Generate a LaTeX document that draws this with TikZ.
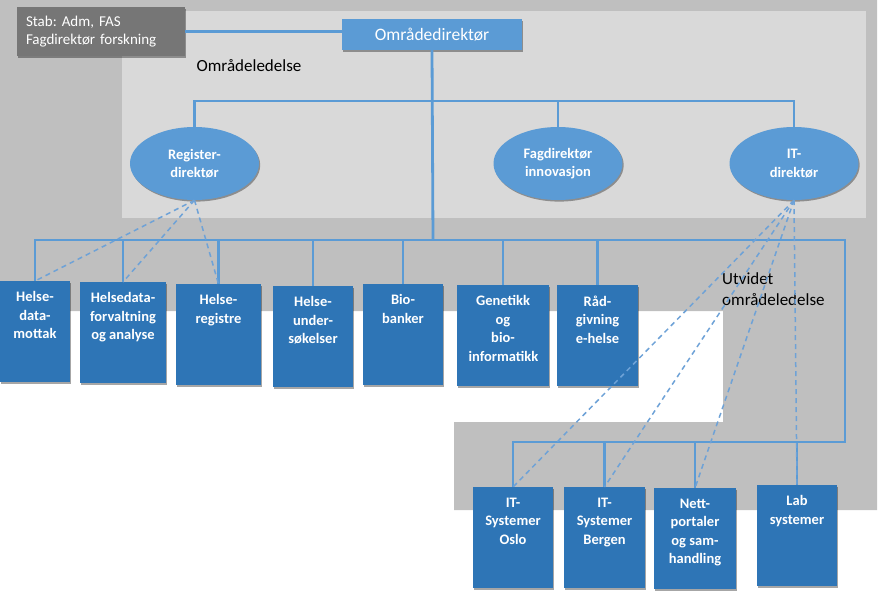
\documentclass[tikz,border=0pt]{standalone}
\usepackage{fontspec}
\setmainfont{Carlito}
\usetikzlibrary{
  shapes.geometric,
  shadows,
  positioning
}

\definecolor{outergrey}{RGB}{191,191,191}
\definecolor{innergrey}{RGB}{217,217,217}
\definecolor{stabgrey}{RGB}{118,118,118}
\definecolor{headblue}{RGB}{91,155,213}
\definecolor{unitblue}{RGB}{46,117,182}
\definecolor{linkblue}{RGB}{91,155,213}
\definecolor{dashblue}{RGB}{110,162,215}

\frenchspacing
\newcommand\unitfont{\bfseries\fontsize{14.5}{18.5}\selectfont}
\newcommand\utext[1]{\parbox[t][80pt][t]{69pt}{\centering #1}}

\tikzset{
  softshadow/.style={drop shadow={shadow xshift=1.2pt, shadow yshift=-1.6pt,
    opacity=.35, fill=black}},
  link/.style={draw=linkblue, line width=2.8pt},
  dashlink/.style={draw=dashblue, line width=1.5pt, dash pattern=on 5pt off 4pt},
  stabbox/.style={rectangle, fill=stabgrey, text=white, softshadow,
    minimum width=168pt, minimum height=47pt, inner sep=9pt,
    text width=150pt, align=left, font=\fontsize{15}{18}\selectfont},
  headbox/.style={rectangle, fill=headblue, text=white, softshadow,
    minimum width=180pt, minimum height=31pt, inner sep=0pt,
    font=\fontsize{17.5}{21}\selectfont},
  leader/.style={ellipse, fill=headblue, text=white, softshadow,
    minimum width=129pt, minimum height=73pt, inner sep=0pt,
    align=center, font=\unitfont},
  unit/.style={rectangle, fill=unitblue, text=white, softshadow,
    anchor=north, inner sep=0pt, minimum width=#1, minimum height=101pt,
    font=\unitfont},
  areatext/.style={text=black, inner sep=0pt, font=\fontsize{17}{20.5}\selectfont}
}

\begin{document}
\begin{tikzpicture}[x=1pt, y=-1pt]
  \useasboundingbox (0,0) rectangle (886,597);
  % grey areas
  \fill[outergrey] (0,0) -- (877,0) -- (877,510) -- (454,510) -- (454,422)
    -- (723,422) -- (723,311) -- (0,311) -- cycle;
  \fill[innergrey] (122,11) rectangle (866,218);

  % top level
  \node[stabbox] (stab) at (101,31.5) {Stab: Adm, FAS\\Fagdirektør forskning};
  \node[headbox] (omr) at (432,34.5) {Områdedirektør};
  \node[areatext] (ledelse) at (249,66) {Områdeledelse};
  \node[leader] (reg) at (194.5,163.5) {Register-\\direktør};
  \node[leader] (fag) at (558,163.5) {Fagdirektør\\innovasjon};
  \node[leader] (it) at (794,163.5) {IT-\\direktør};

  % units
  \node[unit=70pt] (hdm) at (35,281) {\utext{Helse-\\data-\\mottak}};
  \node[unit=86pt] (hfa) at (123,282) {\utext{Helsedata-\\forvaltning\\og analyse}};
  \node[unit=85pt] (hrg) at (218.5,284) {\utext{Helse-\\registre}};
  \node[unit=80pt] (hus) at (313,286) {\utext{Helse-\\under-\\søkelser}};
  \node[unit=80pt] (bio) at (403,284) {\utext{Bio-\\banker}};
  \node[unit=92pt] (gen) at (503,285) {\utext{Genetikk\\og\\bio-\\informatikk}};
  \node[unit=81pt] (rad) at (597.5,285) {\utext{Råd-\\givning\\e-helse}};
  \node[areatext, align=left, anchor=west] (utvidet) at (722,289)
    {Utvidet\\områdeledelse};

  \node[unit=80pt] (osl) at (513,487) {\utext{IT-\\Systemer\\Oslo}};
  \node[unit=81pt] (brg) at (604.5,487) {\utext{IT-\\Systemer\\Bergen}};
  \node[unit=82pt] (net) at (695,488) {\utext{Nett-\\portaler\\og sam-\\handling}};
  \node[unit=80pt] (lab) at (797,485) {\utext{Lab\\systemer}};

  % lines
  \coordinate (topbus) at (433,101);
  \coordinate (lowbus) at (433,240);
  \coordinate (itbus) at (845,442);
  \draw[link] (stab.east) -- (stab.east -| omr.west);
  \draw[link] (reg.north) |- (topbus) -| (it.north);
  \draw[link] (fag.north) -- (fag.north |- topbus);
  \draw[link] (omr.south) -- (lowbus);
  \draw[link] (hdm.north) |- (lowbus) -| (itbus) -| (osl.north);
  \foreach \u in {hfa,hrg,hus,bio,gen,rad}
    \draw[link] (\u.north) -- (\u.north |- lowbus);
  \foreach \u in {brg,net,lab}
    \draw[link] (\u.north) -- (\u.north |- itbus);
  \foreach \u in {hdm,hfa,hrg}
    \draw[dashlink] (reg.south) -- (\u.north);
  \foreach \u in {osl,brg,net,lab}
    \draw[dashlink] (it.south) -- (\u.north);
\end{tikzpicture}
\end{document}
